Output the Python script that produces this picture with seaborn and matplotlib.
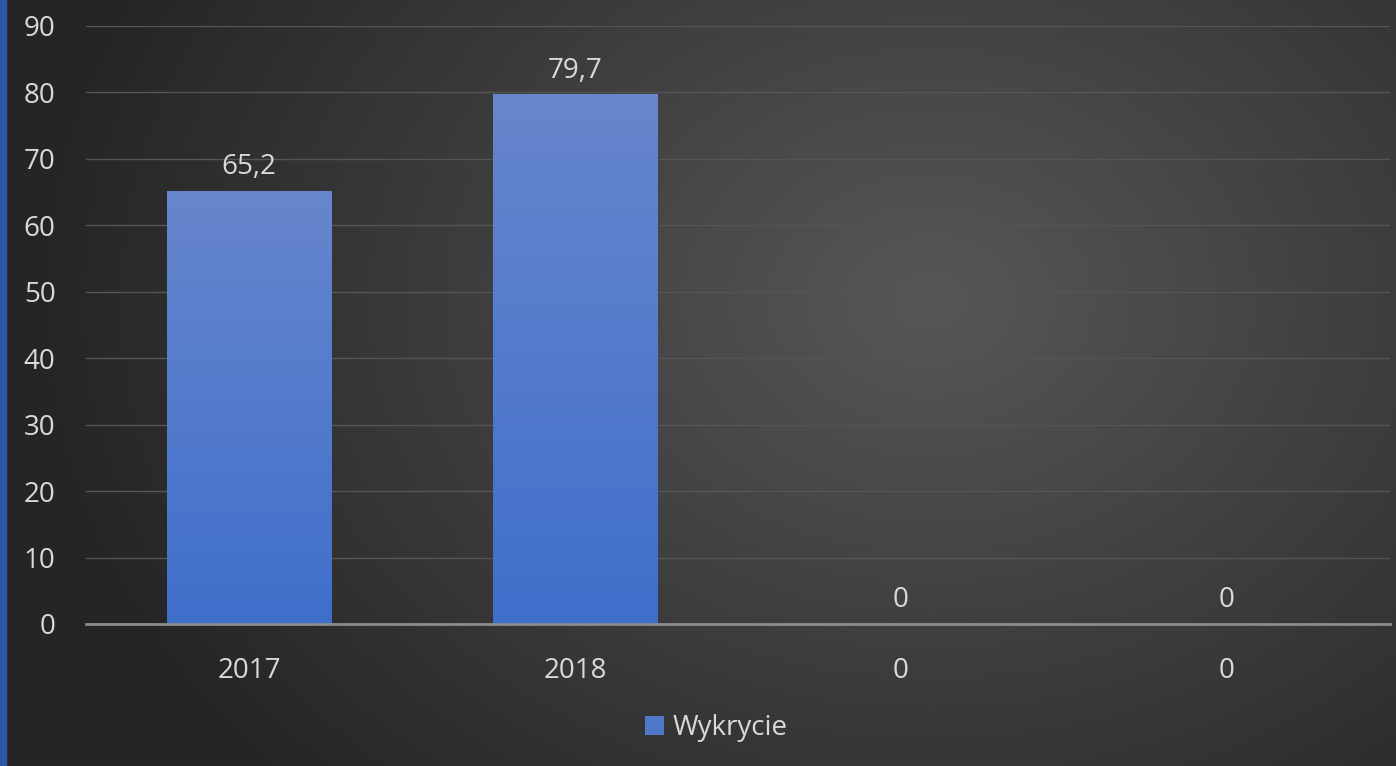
import numpy as np
import pandas as pd
import seaborn as sns
import matplotlib.pyplot as plt
from matplotlib.patches import Patch, Rectangle

# data
categories = ['2017', '2018', '0', '0']
values = [65.2, 79.7, 0, 0]
value_labels = ['65,2', '79,7', '0', '0']
series_name = 'Wykrycie'

sns.set_theme(style='dark')
plt.rcParams['font.family'] = ['Open Sans', 'DejaVu Sans']

W, H = 1396, 766
fig = plt.figure(figsize=(W / 100, H / 100), dpi=100)

# radial dark background
bg = fig.add_axes([0, 0, 1, 1], zorder=-2)
yy, xx = np.mgrid[0:H, 0:W]
d = np.sqrt(((xx - 930) / 900.0) ** 2 + ((yy - 300) / 700.0) ** 2)
shade = np.clip(0x57 - (0x57 - 0x25) * d, 0x25, 0x57) / 255.0
bg.imshow(np.dstack([shade, shade, shade]), aspect='auto', extent=[0, W, H, 0])
bg.add_patch(Rectangle((0, 0), 6, H, color='#2a58a6'))
bg.set_xlim(0, W)
bg.set_ylim(H, 0)
bg.axis('off')

ax = fig.add_axes([86 / W, 1 - 624 / H, 1304 / W, 598 / H])
ax.set_facecolor('none')

df = pd.DataFrame({'pos': range(len(values)), 'value': values})
sns.barplot(data=df, x='pos', y='value', color='#4472c4', width=0.506,
            saturation=1, linewidth=0, edgecolor='none', ax=ax, zorder=2)

# vertical gradient on bars
grad = np.linspace(0, 1, 256).reshape(-1, 1)
top = np.array([0x67, 0x86, 0xcd]) / 255.0
bot = np.array([0x3f, 0x6f, 0xcb]) / 255.0
cols = top + (bot - top) * grad
img = cols.reshape(256, 1, 3)
for p in ax.patches:
    h = p.get_height()
    if h <= 0:
        continue
    x0 = p.get_x()
    im = ax.imshow(img, aspect='auto', extent=[x0, x0 + p.get_width(), 0, h],
                   origin='upper', zorder=3)
    im.set_clip_path(p)

for i, (v, lab) in enumerate(zip(values, value_labels)):
    ax.annotate(lab, (i, v), xytext=(0, 7), textcoords='offset points',
                ha='center', va='bottom', fontsize=20, color='#d9d9d9')

ax.set_xlim(-0.5, 3.5)
ax.set_ylim(0, 90)
ax.set_yticks(range(0, 91, 10))
ax.set_xticks(range(len(categories)))
ax.set_xticklabels(categories)
ax.tick_params(axis='both', labelsize=20, labelcolor='#d9d9d9', length=0)
ax.tick_params(axis='y', pad=22)
ax.tick_params(axis='x', pad=24)
ax.set_xlabel('')
ax.set_ylabel('')
ax.grid(axis='y', color='#555555', linewidth=1, zorder=0)
ax.grid(axis='x', visible=False)
for s in ['top', 'right', 'left']:
    ax.spines[s].set_visible(False)
ax.spines['bottom'].set_color('#8c8c8c')
ax.spines['bottom'].set_linewidth(2)
ax.spines['bottom'].set_zorder(4)

fig.legend(handles=[Patch(facecolor='#4f79c8', edgecolor='none', label=series_name)],
           loc='center', bbox_to_anchor=(716 / W, 1 - 728 / H), frameon=False,
           fontsize=20, labelcolor='#d9d9d9', handlelength=0.7, handleheight=0.7,
           handletextpad=0.3)

fig.savefig('out.png', dpi=100)
